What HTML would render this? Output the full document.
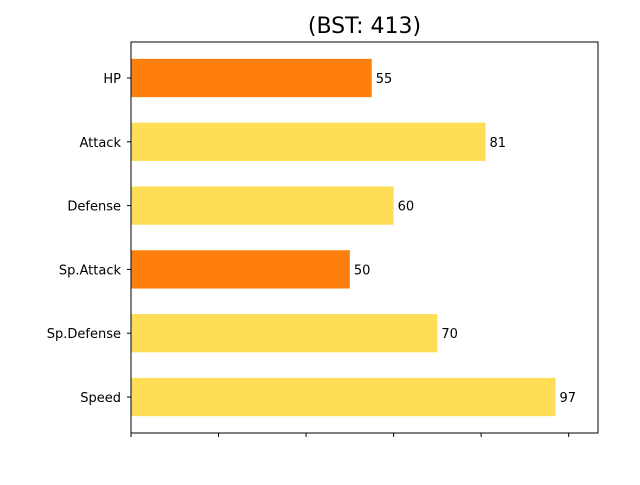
<!DOCTYPE html>
<html><head><meta charset="utf-8"><style>
body{margin:0;background:#fff;}
svg{font-family:"DejaVu Sans","Liberation Sans",sans-serif;}
</style></head><body>
<svg id="chart" width="640" height="480">
<text x="364.5" y="33" text-anchor="middle" font-size="22">(BST: 413)</text>
<g id="bars"></g>
<rect x="131" y="42" width="467" height="391" fill="none" stroke="#000" stroke-width="1"/>
<g id="ticks"></g>
</svg>
<script>
const categories = ["HP","Attack","Defense","Sp.Attack","Sp.Defense","Speed"];
const values = [55,81,60,50,70,97];
const xTicks = [0,20,40,60,80,100];
const threshold = 60;

const axLeft=131, axRight=598, axTop=42, axBottom=433;
const xMax = Math.max(...values)*1.1;
const x = v => axLeft + v/xMax*(axRight-axLeft);
const band = 63.8;
const y = i => 78 + i*band;
const barH = band*0.6;
const ns="http://www.w3.org/2000/svg";
const bars=document.getElementById('bars');
const ticks=document.getElementById('ticks');
categories.forEach((c,i)=>{
  const r=document.createElementNS(ns,'rect');
  r.setAttribute('x',axLeft);
  r.setAttribute('y',y(i)-barH/2);
  r.setAttribute('width',x(values[i])-axLeft);
  r.setAttribute('height',barH);
  r.setAttribute('fill',values[i]<threshold?'#ff7f0e':'#ffdd57');
  
  
  bars.appendChild(r);
  const t=document.createElementNS(ns,'text');
  t.setAttribute('x',x(values[i])+4);
  t.setAttribute('y',y(i)+5);
  t.setAttribute('font-size','13');
  t.textContent=values[i];
  
  
  bars.appendChild(t);
  const tk=document.createElementNS(ns,'line');
  tk.setAttribute('x1',axLeft-4);tk.setAttribute('x2',axLeft);
  tk.setAttribute('y1',y(i));tk.setAttribute('y2',y(i));
  tk.setAttribute('stroke','#000');
  
  
  ticks.appendChild(tk);
  const l=document.createElementNS(ns,'text');
  l.setAttribute('x',axLeft-10);
  l.setAttribute('y',y(i)+5);
  l.setAttribute('text-anchor','end');
  l.setAttribute('font-size','13');
  l.textContent=c;
  
  
  ticks.appendChild(l);
});
xTicks.forEach(v=>{
  const tk=document.createElementNS(ns,'line');
  tk.setAttribute('x1',x(v));tk.setAttribute('x2',x(v));
  tk.setAttribute('y1',axBottom);tk.setAttribute('y2',axBottom+4);
  tk.setAttribute('stroke','#000');
  
  
  ticks.appendChild(tk);
});
</script>
</body></html>
